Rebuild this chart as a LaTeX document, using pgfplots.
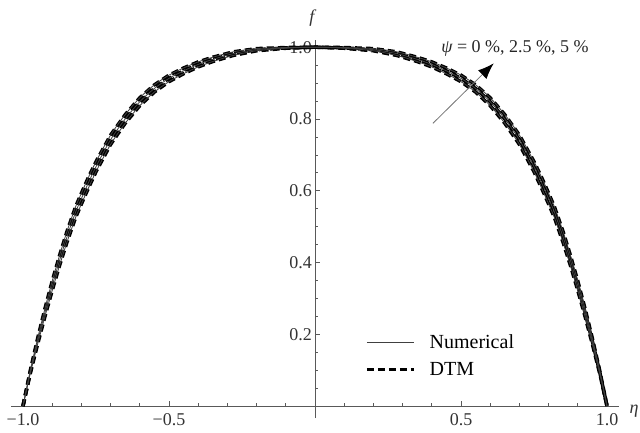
\documentclass[border=0pt]{standalone}
\usepackage{fontspec}
\setmainfont{Liberation Serif}
\usepackage{pgfplots}
\usepackage{pgfplotstable}
\pgfplotsset{compat=1.18}
\usetikzlibrary{arrows.meta}

\pgfplotstableread{
eta f0 f25 f5
-1.000 0.000 0.000 0.000
-0.975 0.091 0.095 0.099
-0.950 0.172 0.180 0.188
-0.925 0.249 0.260 0.271
-0.900 0.322 0.335 0.348
-0.875 0.391 0.405 0.419
-0.850 0.455 0.470 0.485
-0.820 0.525 0.540 0.555
-0.800 0.563 0.578 0.593
-0.780 0.600 0.615 0.630
-0.750 0.653 0.667 0.681
-0.700 0.729 0.742 0.755
-0.650 0.788 0.800 0.812
-0.600 0.837 0.848 0.859
-0.550 0.875 0.885 0.895
-0.500 0.904 0.913 0.922
-0.450 0.926 0.934 0.942
-0.400 0.945 0.952 0.959
-0.350 0.960 0.966 0.972
-0.280 0.977 0.982 0.987
-0.200 0.990 0.993 0.996
-0.100 0.997 0.998 0.999
0.000 1.000 1.000 1.000
0.100 0.997 0.998 0.999
0.200 0.990 0.993 0.996
0.280 0.977 0.982 0.987
0.350 0.960 0.966 0.972
0.400 0.945 0.952 0.959
0.450 0.926 0.934 0.942
0.500 0.904 0.913 0.922
0.550 0.875 0.885 0.895
0.600 0.837 0.848 0.859
0.650 0.788 0.800 0.812
0.700 0.729 0.742 0.755
0.750 0.653 0.667 0.681
0.780 0.600 0.615 0.630
0.800 0.563 0.578 0.593
0.820 0.525 0.540 0.555
0.850 0.455 0.470 0.485
0.875 0.391 0.405 0.419
0.900 0.322 0.335 0.348
0.925 0.249 0.260 0.271
0.950 0.172 0.180 0.188
0.975 0.091 0.095 0.099
1.000 0.000 0.000 0.000
}\datatab

\tikzset{
  numstyle/.style={draw=black!75, line width=0.8pt, solid},
  dtmstyle/.style={draw=black, line width=3.5pt, dash pattern=on 7pt off 4pt},
}

\begin{document}
\begin{tikzpicture}
\begin{axis}[
  width=608pt, height=378pt, scale only axis,
  xmin=-1.041, xmax=1.041, ymin=-0.033, ymax=1.02,
  axis lines=middle,
  axis line style={-, draw=black!65, line width=0.8pt},
  clip=false,
  tick align=inside,
  major tick length=5pt, minor tick length=3pt,
  tick style={draw=black!65, line width=0.7pt},
  xtick={-1,-0.5,0.5,1},
  xticklabels={−1.0,−0.5,0.5,1.0},
  minor xtick={-0.9,-0.8,-0.7,-0.6,-0.4,-0.3,-0.2,-0.1,0.1,0.2,0.3,0.4,0.6,0.7,0.8,0.9},
  ytick={0.2,0.4,0.6,0.8,1.0},
  yticklabels={0.2,0.4,0.6,0.8,1.0},
  minor ytick={0.05,0.1,0.15,0.25,0.3,0.35,0.45,0.5,0.55,0.65,0.7,0.75,0.85,0.9,0.95},
  ticklabel style={font=\fontsize{18}{20}\selectfont, text=black!80},
  xticklabel style={anchor=north, inner sep=0pt, yshift=-7pt},
  yticklabel style={anchor=east, inner sep=0pt, xshift=-3pt},
  xlabel={\itshape η},
  ylabel={\itshape f},
  xlabel style={at={(axis description cs:1.025,0.0185)}, anchor=center, font=\fontsize{18}{20}\selectfont, text=black!80},
  ylabel style={at={(axis description cs:0.495,1.058)}, anchor=center, font=\fontsize{18}{20}\selectfont, text=black!80},
  legend style={draw=none, fill=none, at={(axis cs:0.171,0.205)}, anchor=north west,
    font=\fontsize{20}{22}\selectfont, row sep=8pt, inner sep=0pt,
    /tikz/every odd column/.append style={column sep=12pt}},
  legend cell align=left,
  legend image code/.code={\draw[#1] (0pt,0pt) -- (47pt,0pt);},
]
\addlegendimage{numstyle}
\addlegendentry{Numerical}
\addlegendimage{dtmstyle}
\addlegendentry{DTM}

\addplot[dtmstyle, line join=round, forget plot] table[x=eta, y=f0] {\datatab};
\addplot[dtmstyle, line join=round, forget plot] table[x=eta, y=f25] {\datatab};
\addplot[dtmstyle, line join=round, forget plot] table[x=eta, y=f5] {\datatab};
\addplot[numstyle, smooth, forget plot] table[x=eta, y=f0] {\datatab};
\addplot[numstyle, smooth, forget plot] table[x=eta, y=f25] {\datatab};
\addplot[numstyle, smooth, forget plot] table[x=eta, y=f5] {\datatab};

\draw[draw=black!55, line width=0.8pt, -{Latex[black, length=16pt, width=12pt]}] (axis cs:0.404,0.788) -- (axis cs:0.612,0.955);
\node[font=\fontsize{18}{20}\selectfont, text=black!85] at (axis cs:0.685,0.997) {{\itshape ψ} = 0 \%, 2.5 \%, 5 \%};
\end{axis}
\pgfresetboundingbox
\path (current axis.south west) ++(-11pt,-14pt) rectangle ([xshift=629pt, yshift=418pt]current axis.south west);
\end{tikzpicture}
\end{document}
